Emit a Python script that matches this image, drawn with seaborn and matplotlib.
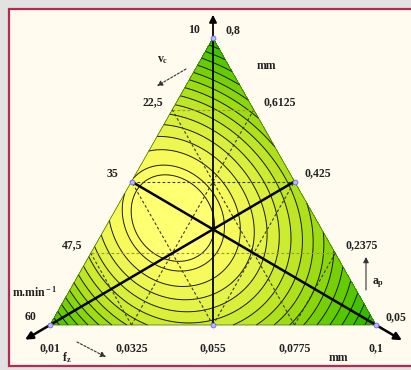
import numpy as np
import matplotlib
matplotlib.use("Agg")
import matplotlib.pyplot as plt
import matplotlib.tri as mtri
from matplotlib.patches import Rectangle
from matplotlib.colors import ListedColormap, BoundaryNorm
import seaborn as sns

# ---------------- data ----------------
vc_ticks = ["10", "22,5", "35", "47,5", "60"]            # left edge, top -> bottom-left
ap_ticks = ["0,05", "0,2375", "0,425", "0,6125", "0,8"]  # right edge, bottom-right -> top
fz_ticks = ["0,01", "0,0325", "0,055", "0,0775", "0,1"]  # bottom edge, left -> right
grid_fracs = [0.25, 0.5, 0.75]
# design points as barycentric weights (left, right, top)
design_pts = [(0, 0, 1), (0.5, 0, 0.5), (0, 0.5, 0.5), (1, 0, 0), (0.5, 0.5, 0), (0, 1, 0)]
# response surface model: optimum location, coded unit, coefficients
model_center = [0.374, 0.328]
model_unit = 0.307
# u^2, v^2, u*v, u^3
model_coef = [9.5, 8.8, 3.0, -1.0]
contour_levels = [1.6, 2.4, 4.0, 5.7, 7.5, 9.4, 11.4, 13.5, 15.6, 17.8, 20.0, 22.3,
                  24.7, 27.1, 29.5, 32.0, 34.5, 37.1, 39.7, 42.3, 45.0, 47.6, 50.4, 53.1]
band_colors = ['#ffff72', '#f6fa5a', '#e2f244', '#c8ea2c', '#a6de16', '#7ed208',
               '#58c800', '#36bc00', '#1cb000']

# ---------------- style ----------------
sns.set_style("white")
plt.rcParams['font.family'] = ['Liberation Serif', 'DejaVu Serif']
plt.rcParams['font.weight'] = 'bold'
plt.rcParams['mathtext.fontset'] = 'custom'
plt.rcParams['mathtext.rm'] = 'Liberation Serif:bold'
plt.rcParams['mathtext.it'] = 'Liberation Serif:bold'
plt.rcParams['mathtext.bf'] = 'Liberation Serif:bold'

S = 326.0  # px per data unit
H = 287.0 / S
L = np.array([0.0, 0.0]); R = np.array([1.0, 0.0]); T = np.array([0.5, H])

fig = plt.figure(figsize=(4.11, 3.70), dpi=100, facecolor='#e2e2e2')
ax = fig.add_axes([0, 0, 1, 1])
ax.set_xlim(-50 / S, 361 / S)
ax.set_ylim(-45 / S, 325 / S)
ax.axis('off')

# frame
ax.add_patch(Rectangle((9 / 411, 4 / 370), 410 / 411, 357 / 370, transform=fig.transFigure,
                       facecolor='#fffbef', edgecolor='#b42a50', lw=1.6, zorder=0, clip_on=False))

# triangulated region
N = 150
pts = []
for a in range(N + 1):
    for b in range(N + 1 - a):
        pts.append(L * (1 - (a + b) / N) + R * (a / N) + T * (b / N))
pts = np.array(pts)
tri = mtri.Triangulation(pts[:, 0], pts[:, 1])
u = (pts[:, 0] - model_center[0]) / model_unit
v = (pts[:, 1] - model_center[1]) / model_unit
c = model_coef
Q = c[0] * u ** 2 + c[1] * v ** 2 + c[2] * u * v + c[3] * u ** 3

bounds = [-100] + contour_levels + [500]
nb = len(bounds) - 1
pal = list(sns.blend_palette(band_colors, n_colors=18))
pal = pal + [pal[-1]] * (nb - len(pal))
cmap = ListedColormap(pal[:nb])
norm = BoundaryNorm(bounds, nb)
ax.tricontourf(tri, Q, levels=bounds, cmap=cmap, norm=norm, zorder=1)
ax.tricontour(tri, Q, levels=contour_levels, colors='#1c1c00', linewidths=0.7, zorder=2)

# triangle outline
ax.plot([L[0], R[0], T[0], L[0]], [L[1], R[1], T[1], L[1]], color='#3a6a10', lw=0.5, zorder=3)

# dashed grid
for f in grid_fracs:
    segs = [(L + f * (T - L), R + f * (T - R)),
            (L + f * (R - L), R + (1 - f) * (T - R)),
            (L + f * (R - L), L + f * (T - L))]
    for i, (p0, p1) in enumerate(segs):
        col = '#9a9a30' if (i == 0 and f != 0.5) else '#3a3a20'
        ax.plot([p0[0], p1[0]], [p0[1], p1[1]], ls=(0, (2.5, 2.0)), color=col, lw=0.8, zorder=3)

# median axes with arrows
Mr = (R + T) / 2; Ml = (L + T) / 2; Mb = (L + R) / 2
arrow_kw = dict(arrowstyle='-|>', color='black', mutation_scale=11, shrinkA=0, shrinkB=0)
for start, end, ext, lw in [(Mr, L, 0.102, 1.8), (Ml, R, 0.106, 1.8), (Mb, T, 0.081, 1.3)]:
    tip = end + ext * (end - start)
    ax.annotate('', xy=tip, xytext=start, arrowprops=dict(lw=lw, **arrow_kw), zorder=4)

# design points
for w in design_pts:
    p = w[0] * L + w[1] * R + w[2] * T
    ax.plot(p[0], p[1], 'o', ms=3.5, mfc='#b8b8ff', mec='#6a6ae0', mew=0.6, zorder=5)

# tick labels
fs = 8.5
def off(p, dx, dy):
    return p[0] + dx / S, p[1] - dy / S

for i, t in enumerate(vc_ticks):
    p = T + (i / 4) * (L - T)
    x, y = off(p, -19, -8)
    ax.text(x, y, t, fontsize=fs, ha='center', va='center', color='#222')
for i, t in enumerate(ap_ticks):
    p = R + (i / 4) * (T - R)
    x, y = off(p, 10 if i < 4 else 13, -8)
    ax.text(x, y, t, fontsize=fs, ha='left', va='center', color='#222')
for i, t in enumerate(fz_ticks):
    p = L + (i / 4) * (R - L)
    x, y = off(p, 0, 23)
    ax.text(x, y, t, fontsize=fs, ha='center', va='center', color='#222')

def px(xp, yp):
    return (xp - 50) / S, (325 - yp) / S

ax.text(*px(266, 66), 'mm', fontsize=fs, ha='center', va='center', color='#222')
ax.text(*px(338, 358), 'mm', fontsize=fs, ha='center', va='center', color='#222')
ax.text(*px(35, 292), r'm.min$^{\rm -1}$', fontsize=fs, ha='center', va='center', color='#222')
ax.text(*px(163, 60), r'v$_{\rm c}$', fontsize=fs, ha='center', va='center', color='#222')
ax.text(*px(67, 358), r'f$_{\rm z}$', fontsize=fs, ha='center', va='center', color='#222')
ax.text(*px(378, 283), r'a$_{\rm p}$', fontsize=fs, ha='center', va='center', color='#222')

small_kw = dict(arrowstyle='-|>', color='#333333', mutation_scale=8, shrinkA=0, shrinkB=0)
ax.annotate('', xy=px(157, 86), xytext=px(186, 69), arrowprops=dict(lw=0.8, ls=(0, (2, 1.5)), **small_kw))
ax.annotate('', xy=px(106, 357), xytext=px(77, 342), arrowprops=dict(lw=0.8, ls=(0, (2, 1.5)), **small_kw))
ax.annotate('', xy=px(366, 257), xytext=px(366, 290), arrowprops=dict(lw=0.8, **small_kw))

fig.savefig('out.png', dpi=100, facecolor=fig.get_facecolor())
